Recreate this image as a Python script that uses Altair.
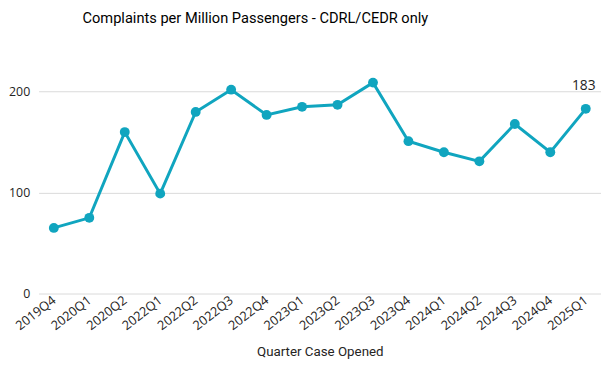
import altair as alt
import pandas as pd

quarters = ["2019Q4", "2020Q1", "2020Q2", "2022Q1", "2022Q2", "2022Q3", "2022Q4",
            "2023Q1", "2023Q2", "2023Q3", "2023Q4", "2024Q1", "2024Q2", "2024Q3",
            "2024Q4", "2025Q1"]
values = [65, 75, 160, 99, 180, 202, 177, 185, 187, 209, 151, 140, 131, 168, 140, 183]
last_label = ["", "", "", "", "", "", "", "", "", "", "", "", "", "", "", "183"]

df = pd.DataFrame({"q": quarters, "v": values, "lab": last_label})

color = "#10A5BF"

x = alt.X("q:N", sort=quarters, scale=alt.Scale(type="point", padding=0.43),
          axis=alt.Axis(title="Quarter Case Opened", labelAngle=-38, labelAlign="right",
                        labelBaseline="middle", labelFont="Open Sans", labelFontSize=13,
                        labelColor="#252423", ticks=False, domain=False, labelPadding=5,
                        titleFont="Roboto", titleFontSize=13.5, titleFontWeight="normal",
                        titleColor="#252423", titlePadding=12))
y = alt.Y("v:Q", scale=alt.Scale(domain=[0, 220], nice=False),
          axis=alt.Axis(title=None, values=[0, 100, 200], labelFont="Open Sans",
                        labelFontSize=12.5, labelColor="#252423", ticks=False, domain=False,
                        labelPadding=9, gridColor="#d9d9d9", gridWidth=1))

base = alt.Chart(df).encode(x=x, y=y)

line = base.mark_line(color=color, strokeWidth=3)
pts = base.mark_circle(color=color, size=100, opacity=1)
txt = base.mark_text(dy=-23, dx=-2, font="Open Sans", fontSize=14, color="#252423").encode(text="lab:N")

chart = (line + pts + txt).properties(
    width=570, height=225,
    padding={"left": 0, "top": 0, "right": 0, "bottom": 0},
    title=alt.TitleParams("Complaints per Million Passengers - CDRL/CEDR only",
                          font="Roboto", fontSize=14.8, fontWeight="normal", color="#000000",
                          anchor="start", dx=75, offset=28),
).configure_view(stroke=None)

chart.save("out.html", embed_options={"renderer": "svg", "actions": False})
